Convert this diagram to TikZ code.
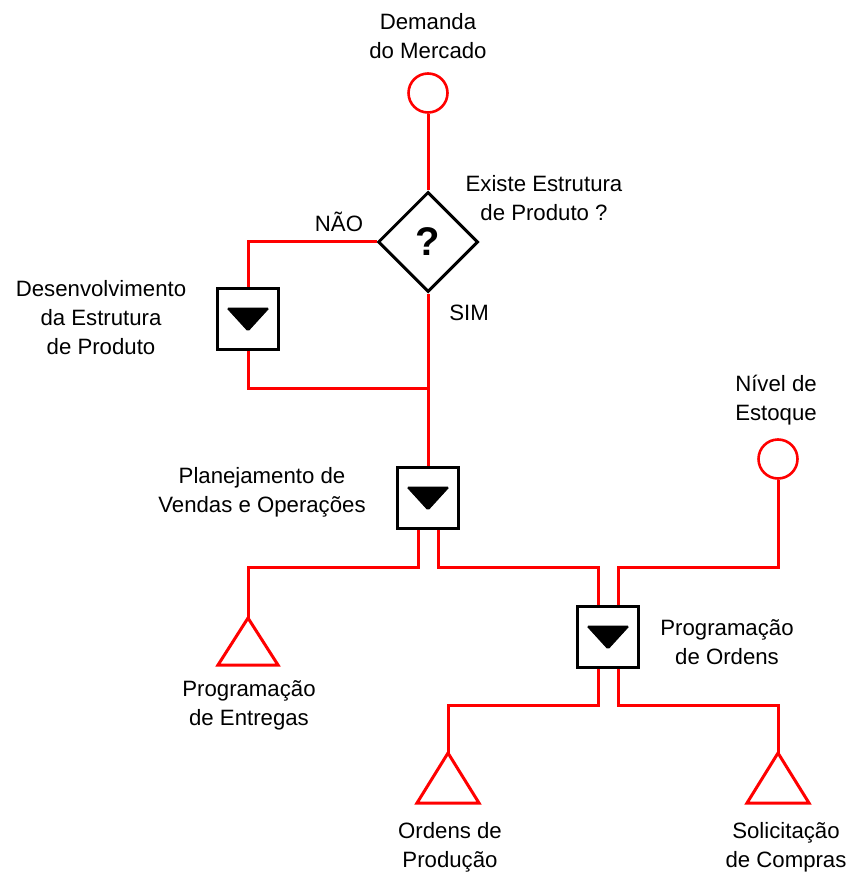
\documentclass[tikz,border=0pt]{standalone}
\usepackage{fontspec}
\setmainfont{Liberation Sans}
\usetikzlibrary{shapes.geometric}
\begin{document}
\begin{tikzpicture}[x=1pt,y=-1pt,
  flow/.style={draw=red,line width=3pt},
  endpt/.style={circle,draw=red,line width=2.6pt,minimum size=39pt,inner sep=0pt},
  stepbox/.style={rectangle,draw=black,line width=3.4pt,fill=white,minimum size=61pt,inner sep=0pt},
  decision/.style={diamond,draw=black,line width=3pt,fill=white,minimum size=100pt,inner sep=0pt,
    font=\fontsize{40}{42}\selectfont\bfseries},
  lbl/.style={align=center,inner sep=0pt,font=\fontsize{22.2}{29}\selectfont},
  arrowmark/.style={fill=black,draw=black,line width=1pt,rounded corners=1.5pt}
]
\useasboundingbox (0,0) rectangle (846,874);

% shapes of the flow
\node[endpt] (dem) at (428,93) {};
\node[decision] (dia) at (428,242) {?};
\node[stepbox] (dev) at (248,319) {};
\node[stepbox] (svop) at (428,498) {};
\node[stepbox] (prog) at (608,637) {};
\node[endpt] (est) at (778,459) {};

% apexes of the output triangles
\coordinate (tEnt) at (248,618);
\coordinate (tOrd) at (448,753);
\coordinate (tCom) at (778,753);

% bends and junctions
\coordinate (j1) at (428,388);
\coordinate (k1) at (248,567);
\coordinate (k2) at (598,567);
\coordinate (k3) at (778,567);
\coordinate (k4) at (448,705);
\coordinate (k5) at (778,705);

% connectors
\draw[flow] (dem.south) -- (dia.north);
\draw[flow] (dia.west) -| (dev.north);
\draw[flow] (dev.south) |- (j1);
\draw[flow] (dia.south) -- (svop.north);
\draw[flow] ([xshift=-10pt]svop.south) |- (k1) -- (tEnt);
\draw[flow] ([xshift=10pt]svop.south) |- (k2) -- ([xshift=-10pt]prog.north);
\draw[flow] ([xshift=10pt]prog.north) |- (k3) -- (est.south);
\draw[flow] ([xshift=-10pt]prog.south) |- (k4) -- (tOrd);
\draw[flow] ([xshift=10pt]prog.south) |- (k5) -- (tCom);

% redraw boxes above the connector ends
\node[stepbox] at (dev) {};
\node[stepbox] at (svop) {};
\node[stepbox] at (prog) {};

% output triangles
\draw[flow,line join=miter] (tEnt) -- ++(-30,47) -- ++(60,0) -- cycle;
\draw[flow,line join=miter] (tOrd) -- ++(-31,50) -- ++(62,0) -- cycle;
\draw[flow,line join=miter] (tCom) -- ++(-31,50) -- ++(62,0) -- cycle;

% markers inside the step boxes
\foreach \b in {dev,svop,prog}{
  \draw[arrowmark] ([shift={(-21,-11)}]\b.center) -- ([shift={(21,-11)}]\b.center)
    -- ([shift={(0,12)}]\b.center) -- cycle;
}

% labels
\node[lbl] (lDem) at (428,36) {Demanda\\do Mercado};
\node[lbl] (lEx) at (544,198) {Existe Estrutura\\de Produto ?};
\node[lbl] (lNao) at (339,222) {NÃO};
\node[lbl] (lSim) at (469,313) {SIM};
\node[lbl] (lDev) at (101,318) {Desenvolvimento\\da Estrutura\\de Produto};
\node[lbl] (lSvop) at (262,492) {Planejamento de\\Vendas e Operações};
\node[lbl] (lEst) at (776,400) {Nível de\\Estoque};
\node[lbl] (lProg) at (727,642) {Programação\\de Ordens};
\node[lbl] (lEnt) at (249,705) {Programação\\de Entregas};
\node[lbl] (lOrd) at (450,847) {Ordens de\\Produção};
\node[lbl] (lCom) at (786,847) {Solicitação\\de Compras};
\end{tikzpicture}
\end{document}
